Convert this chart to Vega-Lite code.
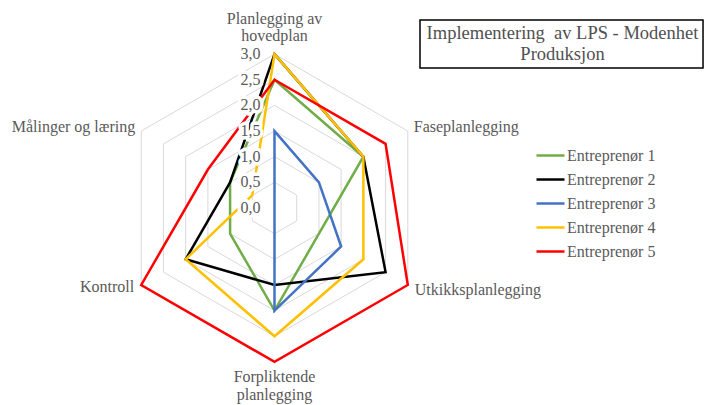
{
  "$schema": "https://vega.github.io/schema/vega-lite/v6.json",
  "width": 704,
  "height": 405,
  "autosize": "none",
  "padding": 0,
  "background": "white",
  "config": {"view": {"stroke": null}},
  "datasets": {
    "axes": [
      {"axis": "Planlegging av hovedplan", "i": 0, "label": ["Planlegging av", "hovedplan"]},
      {"axis": "Faseplanlegging", "i": 1, "label": ["Faseplanlegging"]},
      {"axis": "Utkikksplanlegging", "i": 2, "label": ["Utkikksplanlegging"]},
      {"axis": "Forpliktende planlegging", "i": 3, "label": ["Forpliktende", "planlegging"]},
      {"axis": "Kontroll", "i": 4, "label": ["Kontroll"]},
      {"axis": "Målinger og læring", "i": 5, "label": ["Målinger og læring"]}
    ],
    "series": [
      {"e": "Entreprenør 1", "axis": "Planlegging av hovedplan", "v": 2.5},
      {"e": "Entreprenør 1", "axis": "Faseplanlegging", "v": 2.0},
      {"e": "Entreprenør 1", "axis": "Utkikksplanlegging", "v": 1.0},
      {"e": "Entreprenør 1", "axis": "Forpliktende planlegging", "v": 2.0},
      {"e": "Entreprenør 1", "axis": "Kontroll", "v": 1.0},
      {"e": "Entreprenør 1", "axis": "Målinger og læring", "v": 1.0},
      {"e": "Entreprenør 2", "axis": "Planlegging av hovedplan", "v": 3.0},
      {"e": "Entreprenør 2", "axis": "Faseplanlegging", "v": 2.0},
      {"e": "Entreprenør 2", "axis": "Utkikksplanlegging", "v": 2.5},
      {"e": "Entreprenør 2", "axis": "Forpliktende planlegging", "v": 1.5},
      {"e": "Entreprenør 2", "axis": "Kontroll", "v": 2.0},
      {"e": "Entreprenør 2", "axis": "Målinger og læring", "v": 1.0},
      {"e": "Entreprenør 3", "axis": "Planlegging av hovedplan", "v": 1.5},
      {"e": "Entreprenør 3", "axis": "Faseplanlegging", "v": 1.0},
      {"e": "Entreprenør 3", "axis": "Utkikksplanlegging", "v": 1.5},
      {"e": "Entreprenør 3", "axis": "Forpliktende planlegging", "v": 2.0},
      {"e": "Entreprenør 3", "axis": "Kontroll", "v": 0.0},
      {"e": "Entreprenør 3", "axis": "Målinger og læring", "v": 0.0},
      {"e": "Entreprenør 4", "axis": "Planlegging av hovedplan", "v": 3.0},
      {"e": "Entreprenør 4", "axis": "Faseplanlegging", "v": 2.0},
      {"e": "Entreprenør 4", "axis": "Utkikksplanlegging", "v": 2.0},
      {"e": "Entreprenør 4", "axis": "Forpliktende planlegging", "v": 2.5},
      {"e": "Entreprenør 4", "axis": "Kontroll", "v": 2.0},
      {"e": "Entreprenør 4", "axis": "Målinger og læring", "v": 0.5},
      {"e": "Entreprenør 5", "axis": "Planlegging av hovedplan", "v": 2.5},
      {"e": "Entreprenør 5", "axis": "Faseplanlegging", "v": 2.5},
      {"e": "Entreprenør 5", "axis": "Utkikksplanlegging", "v": 3.0},
      {"e": "Entreprenør 5", "axis": "Forpliktende planlegging", "v": 3.0},
      {"e": "Entreprenør 5", "axis": "Kontroll", "v": 3.0},
      {"e": "Entreprenør 5", "axis": "Målinger og læring", "v": 1.5}
    ],
    "rings": [
      {"level": 0.5, "i": [0, 1, 2, 3, 4, 5]},
      {"level": 1.0, "i": [0, 1, 2, 3, 4, 5]},
      {"level": 1.5, "i": [0, 1, 2, 3, 4, 5]},
      {"level": 2.0, "i": [0, 1, 2, 3, 4, 5]},
      {"level": 2.5, "i": [0, 1, 2, 3, 4, 5]},
      {"level": 3.0, "i": [0, 1, 2, 3, 4, 5]}
    ],
    "ticks": [
      {"t": "0,0", "level": 0.0},
      {"t": "0,5", "level": 0.5},
      {"t": "1,0", "level": 1.0},
      {"t": "1,5", "level": 1.5},
      {"t": "2,0", "level": 2.0},
      {"t": "2,5", "level": 2.5},
      {"t": "3,0", "level": 3.0}
    ],
    "heading": [
      {"lines": ["Implementering\u00a0 av LPS - Modenhet", "Produksjon"]}
    ]
  },
  "encoding": {
    "x": {"field": "x", "type": "quantitative", "scale": {"domain": [-5.351, 8.372], "nice": false, "zero": false}, "axis": null},
    "y": {"field": "y", "type": "quantitative", "scale": {"domain": [-3.840, 4.055], "nice": false, "zero": false}, "axis": null}
  },
  "layer": [
    {
      "data": {"name": "rings"},
      "transform": [
        {"flatten": ["i"]},
        {"calculate": "PI/2 - datum.i*PI/3", "as": "a"},
        {"calculate": "datum.level*cos(datum.a)", "as": "x"},
        {"calculate": "datum.level*sin(datum.a)", "as": "y"}
      ],
      "mark": {"type": "line", "interpolate": "linear-closed", "stroke": "#D9D9D9", "strokeWidth": 1},
      "encoding": {
        "detail": {"field": "level", "type": "nominal"},
        "order": {"field": "i", "type": "quantitative"}
      }
    },
    {
      "data": {"name": "series"},
      "transform": [
        {"lookup": "axis", "from": {"data": {"name": "axes"}, "key": "axis", "fields": ["i"]}},
        {"calculate": "PI/2 - datum.i*PI/3", "as": "a"},
        {"calculate": "datum.v*cos(datum.a)", "as": "x"},
        {"calculate": "datum.v*sin(datum.a)", "as": "y"}
      ],
      "mark": {"type": "line", "interpolate": "linear-closed", "strokeWidth": 2.5},
      "encoding": {
        "order": {"field": "i", "type": "quantitative"},
        "color": {
          "field": "e",
          "type": "nominal",
          "scale": {
            "domain": ["Entreprenør 1", "Entreprenør 2", "Entreprenør 3", "Entreprenør 4", "Entreprenør 5"],
            "range": ["#70AD47", "#000000", "#4472C4", "#FFC000", "#FF0000"]
          },
          "legend": {
            "title": null,
            "orient": "none",
            "legendX": 535,
            "legendY": 140,
            "padding": 0,
            "symbolType": "stroke",
            "symbolSize": 784,
            "symbolStrokeWidth": 2.5,
            "labelFont": "Liberation Serif",
            "labelFontSize": 16,
            "labelColor": "#595959",
            "labelOffset": 1,
            "rowPadding": -0.5
          }
        }
      }
    },
    {
      "data": {"name": "ticks"},
      "transform": [
        {"calculate": "0", "as": "x"},
        {"calculate": "datum.level", "as": "y"}
      ],
      "mark": {"type": "text", "align": "right", "baseline": "middle", "dx": -14, "font": "Liberation Serif", "fontSize": 16, "stroke": "white", "strokeWidth": 7, "strokeJoin": "round", "fill": "white"},
      "encoding": {"text": {"field": "t"}}
    },
    {
      "data": {"name": "ticks"},
      "transform": [
        {"calculate": "0", "as": "x"},
        {"calculate": "datum.level", "as": "y"}
      ],
      "mark": {"type": "text", "align": "right", "baseline": "middle", "dx": -14, "font": "Liberation Serif", "fontSize": 16, "fill": "#595959"},
      "encoding": {"text": {"field": "t"}}
    },
    {
      "data": {"name": "axes"},
      "transform": [
        {"filter": "datum.i == 0"},
        {"calculate": "PI/2 - datum.i*PI/3", "as": "a"},
        {"calculate": "3*cos(datum.a)", "as": "x"},
        {"calculate": "3*sin(datum.a)", "as": "y"}
      ],
      "mark": {"type": "text", "align": "center", "baseline": "top", "dy": -43, "lineHeight": 17, "font": "Liberation Serif", "fontSize": 16, "fill": "#595959"},
      "encoding": {"text": {"field": "label"}}
    },
    {
      "data": {"name": "axes"},
      "transform": [
        {"filter": "datum.i == 1"},
        {"calculate": "PI/2 - datum.i*PI/3", "as": "a"},
        {"calculate": "3*cos(datum.a)", "as": "x"},
        {"calculate": "3*sin(datum.a)", "as": "y"}
      ],
      "mark": {"type": "text", "align": "left", "baseline": "middle", "dx": 6, "dy": -4, "font": "Liberation Serif", "fontSize": 16, "fill": "#595959"},
      "encoding": {"text": {"field": "label"}}
    },
    {
      "data": {"name": "axes"},
      "transform": [
        {"filter": "datum.i == 2"},
        {"calculate": "PI/2 - datum.i*PI/3", "as": "a"},
        {"calculate": "3*cos(datum.a)", "as": "x"},
        {"calculate": "3*sin(datum.a)", "as": "y"}
      ],
      "mark": {"type": "text", "align": "left", "baseline": "middle", "dx": 7, "dy": 5, "font": "Liberation Serif", "fontSize": 16, "fill": "#595959"},
      "encoding": {"text": {"field": "label"}}
    },
    {
      "data": {"name": "axes"},
      "transform": [
        {"filter": "datum.i == 3"},
        {"calculate": "PI/2 - datum.i*PI/3", "as": "a"},
        {"calculate": "3*cos(datum.a)", "as": "x"},
        {"calculate": "3*sin(datum.a)", "as": "y"}
      ],
      "mark": {"type": "text", "align": "center", "baseline": "top", "dy": 7, "lineHeight": 18, "font": "Liberation Serif", "fontSize": 16, "fill": "#595959"},
      "encoding": {"text": {"field": "label"}}
    },
    {
      "data": {"name": "axes"},
      "transform": [
        {"filter": "datum.i == 4"},
        {"calculate": "PI/2 - datum.i*PI/3", "as": "a"},
        {"calculate": "3*cos(datum.a)", "as": "x"},
        {"calculate": "3*sin(datum.a)", "as": "y"}
      ],
      "mark": {"type": "text", "align": "right", "baseline": "middle", "dx": -7, "dy": 2, "font": "Liberation Serif", "fontSize": 16, "fill": "#595959"},
      "encoding": {"text": {"field": "label"}}
    },
    {
      "data": {"name": "axes"},
      "transform": [
        {"filter": "datum.i == 5"},
        {"calculate": "PI/2 - datum.i*PI/3", "as": "a"},
        {"calculate": "3*cos(datum.a)", "as": "x"},
        {"calculate": "3*sin(datum.a)", "as": "y"}
      ],
      "mark": {"type": "text", "align": "right", "baseline": "middle", "dx": -6, "dy": -4, "font": "Liberation Serif", "fontSize": 16, "fill": "#595959"},
      "encoding": {"text": {"field": "label"}}
    },
    {
      "data": {"name": "heading"},
      "transform": [
        {"calculate": "2.836", "as": "x"},
        {"calculate": "8.353", "as": "x2"},
        {"calculate": "3.665", "as": "y"},
        {"calculate": "2.729", "as": "y2"}
      ],
      "mark": {"type": "rect", "fill": "white", "stroke": "black", "strokeWidth": 1.5},
      "encoding": {
        "x2": {"field": "x2"},
        "y2": {"field": "y2"}
      }
    },
    {
      "data": {"name": "heading"},
      "transform": [
        {"calculate": "5.614", "as": "x"},
        {"calculate": "3.585", "as": "y"}
      ],
      "mark": {"type": "text", "align": "center", "baseline": "top", "lineHeight": 21, "font": "Liberation Serif", "fontSize": 18.5, "fill": "#505050"},
      "encoding": {
        "text": {"field": "lines"}
      }
    }
  ]
}
